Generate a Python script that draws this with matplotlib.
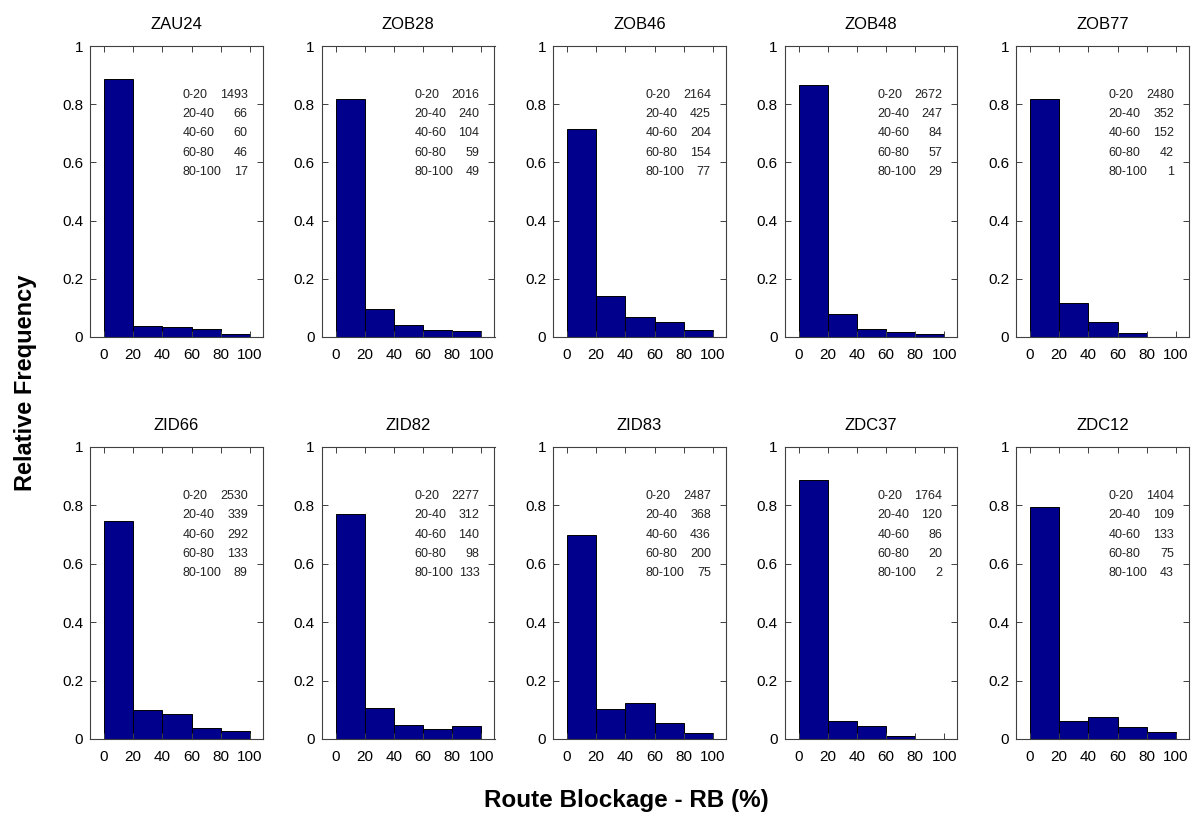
import matplotlib
matplotlib.use("Agg")
import matplotlib.pyplot as plt
import numpy as np

plt.rcParams['font.family'] = ['Liberation Sans', 'DejaVu Sans']

names = ["ZAU24", "ZOB28", "ZOB46", "ZOB48", "ZOB77",
         "ZID66", "ZID82", "ZID83", "ZDC37", "ZDC12"]
bin_labels = ["0-20", "20-40", "40-60", "60-80", "80-100"]
bin_centers = [10, 30, 50, 70, 90]
counts = [
    [1493, 66, 60, 46, 17],
    [2016, 240, 104, 59, 49],
    [2164, 425, 204, 154, 77],
    [2672, 247, 84, 57, 29],
    [2480, 352, 152, 42, 1],
    [2530, 339, 292, 133, 89],
    [2277, 312, 140, 98, 133],
    [2487, 368, 436, 200, 75],
    [1764, 120, 86, 20, 2],
    [1404, 109, 133, 75, 43],
]
xticks = [0, 20, 40, 60, 80, 100]
yticks = [0, 0.2, 0.4, 0.6, 0.8, 1.0]
yticklabels = ["0", "0.2", "0.4", "0.6", "0.8", "1"]

W, H = 1191, 814
fig = plt.figure(figsize=(W / 100, H / 100), dpi=100)

lefts = [90, 321.5, 553, 784.5, 1016]
ax_w = 173
rows = [(46, 337), (447, 739)]

for i, name in enumerate(names):
    r, c = divmod(i, 5)
    top, bot = rows[r]
    ax = fig.add_axes([lefts[c] / W, (H - bot) / H, ax_w / W, (bot - top) / H])
    vals = np.array(counts[i], dtype=float)
    freq = vals / vals.sum()
    ax.bar(bin_centers, freq, width=20, color='#00008C', edgecolor='black', linewidth=0.7)
    ax.set_xlim(-9.6, 109)
    ax.set_ylim(0, 1)
    ax.set_xticks(xticks)
    ax.set_xticklabels([str(t) for t in xticks])
    ax.set_yticks(yticks)
    ax.set_yticklabels(yticklabels)
    ax.tick_params(direction='in', length=4, width=0.7, top=True, right=True,
                   labelsize=11, colors='#404040', labelcolor='black')
    ax.tick_params(axis='x', pad=8)
    ax.tick_params(axis='y', pad=5)
    for s in ax.spines.values():
        s.set_linewidth(0.8)
        s.set_color('#404040')
    ax.set_title(name, fontsize=12, pad=12)
    for k, (lab, v) in enumerate(zip(bin_labels, counts[i])):
        y = 0.832 - k * 0.066
        ax.text(54, y, lab, fontsize=9, ha='left', va='center', color='#222222')
        ax.text(98.6, y, str(v), fontsize=9, ha='right', va='center', color='#222222')

fig.text(26 / W, (H - 383) / H, "Relative Frequency", rotation=90, fontsize=17,
         fontweight='bold', ha='center', va='center')
fig.text(626 / W, (H - 801) / H, "Route Blockage - RB (%)", fontsize=17.5,
         fontweight='bold', ha='center', va='center')

fig.savefig("out.png", dpi=100)
